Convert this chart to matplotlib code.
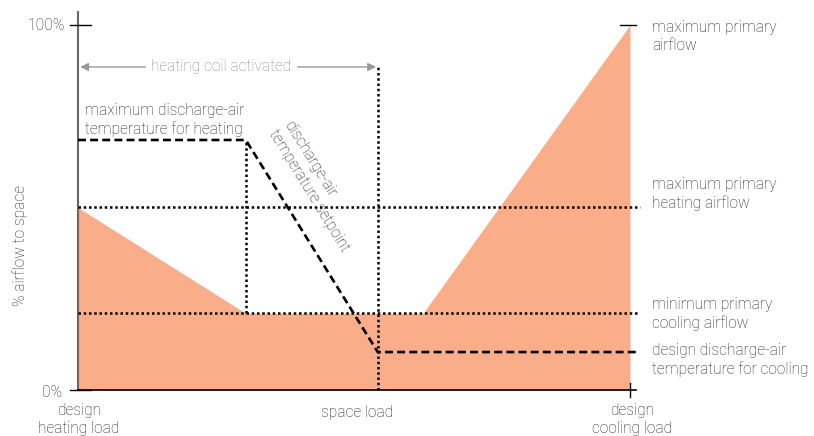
import matplotlib
matplotlib.use("Agg")
import matplotlib.pyplot as plt

plt.rcParams['font.family'] = ['Roboto', 'DejaVu Sans']

# --- data (x: fraction of space load, 0 = design heating, 1 = design cooling; y: % airflow) ---
airflow_x = [0.0, 0.304, 0.625, 1.0]
airflow_y = [50.0, 21.0, 21.0, 100.0]

dat_x = [0.0, 0.304, 0.543, 1.015]
dat_y = [68.5, 68.5, 10.4, 10.4]

max_heating_airflow = 50.0
min_cooling_airflow = 21.0
coil_limit_x = 0.543
coil_arrow_y = 88.5
heat_knee_x = 0.304

y_ticks = [0, 100]
y_tick_labels = ["0%", "100%"]

TXT = "#222222"
FILL = "#F9AD89"

fig = plt.figure(figsize=(8.14, 4.36), dpi=100)
ax = fig.add_axes([78/814, (436-390)/436, 552/814, 365/436])
ax.set_xlim(0, 1)
ax.set_ylim(0, 100)
ax.axis('off')

# filled airflow region
ax.fill_between(airflow_x, airflow_y, 0, color=FILL, lw=0, zorder=1)

# axes lines
ax.plot([0, 0], [0, 103.6], color="#666666", lw=1.5, clip_on=False, zorder=3)
ax.plot([0, 1.01], [0, 0], color="black", lw=1.2, clip_on=False, zorder=3)
for yt in y_ticks:
    ax.plot([-0.0145, 0.0236], [yt, yt], color="black", lw=1.0, clip_on=False, zorder=3)
ax.plot([1, 1], [-1.9, 1.9], color="black", lw=1.0, clip_on=False, zorder=3)
ax.plot([0.982, 1.011], [100, 100], color="black", lw=1.0, clip_on=False, zorder=3)

dot = dict(color="black", lw=1.8, linestyle=(0, (1.0, 1.1)), clip_on=False, zorder=4)
ax.plot([0, 1.018], [max_heating_airflow]*2, **dot)
ax.plot([0, 1.0145], [min_cooling_airflow]*2, **dot)
ax.plot([heat_knee_x]*2, [min_cooling_airflow, dat_y[1]], **dot)
ax.plot([coil_limit_x]*2, [0, coil_arrow_y], **dot)

# discharge-air temperature line
ax.plot(dat_x, dat_y, color="black", lw=1.9, linestyle=(0, (3, 1.6)), clip_on=False, zorder=5)

fs = 11.2
kw = dict(color=TXT, fontsize=fs, fontweight="light", clip_on=False)

# heating coil arrows
GRAY = "#999999"
ax.annotate("", xy=(0.004, coil_arrow_y), xytext=(0.122, coil_arrow_y),
            arrowprops=dict(arrowstyle="-|>", color=GRAY, lw=1.0, mutation_scale=12,
                            shrinkA=0, shrinkB=0))
ax.annotate("", xy=(0.540, coil_arrow_y), xytext=(0.398, coil_arrow_y),
            arrowprops=dict(arrowstyle="-|>", color=GRAY, lw=1.0, mutation_scale=12,
                            shrinkA=0, shrinkB=0))
ax.text(0.259, coil_arrow_y, "heating coil activated", color="#8a8a8a", fontsize=fs,
        ha="center", va="center", fontweight="light")

ax.text(-0.0236, 100, y_tick_labels[1], ha="right", va="center", **kw)
ax.text(-0.029, -0.6, y_tick_labels[0], ha="right", va="center", **kw)
ax.text(-0.105, 39.7, "% airflow to space", rotation=90, ha="center", va="center", **kw)
ax.text(0.002, -3.6, "design\nheating load", ha="center", va="top", multialignment="center",
        linespacing=1.25, **kw)
ax.text(0.505, -6.3, "space load", ha="center", va="center", **kw)
ax.text(1.004, -3.6, "design\ncooling load", ha="center", va="top", multialignment="center",
        linespacing=1.25, **kw)

rx = 1.04
ax.text(rx, 101.5, "maximum primary\nairflow", ha="left", va="top", linespacing=1.25, **kw)
ax.text(rx, 58.4, "maximum primary\nheating airflow", ha="left", va="top", linespacing=1.25, **kw)
ax.text(rx, 25.5, "minimum primary\ncooling airflow", ha="left", va="top", linespacing=1.25, **kw)
ax.text(rx, 12.9, "design discharge-air\ntemperature for cooling", ha="left", va="top",
        linespacing=1.25, **kw)
ax.text(0.0127, 78.7, "maximum discharge-air\ntemperature for heating", ha="left", va="top",
        linespacing=1.25, **kw)
ax.text(0.4327, 55.8, "discharge-air\ntemperature setpoint", rotation=-58.4,
        rotation_mode="anchor", ha="center", va="center", multialignment="left",
        linespacing=1.25, **kw)

fig.savefig("out.png", dpi=100)
